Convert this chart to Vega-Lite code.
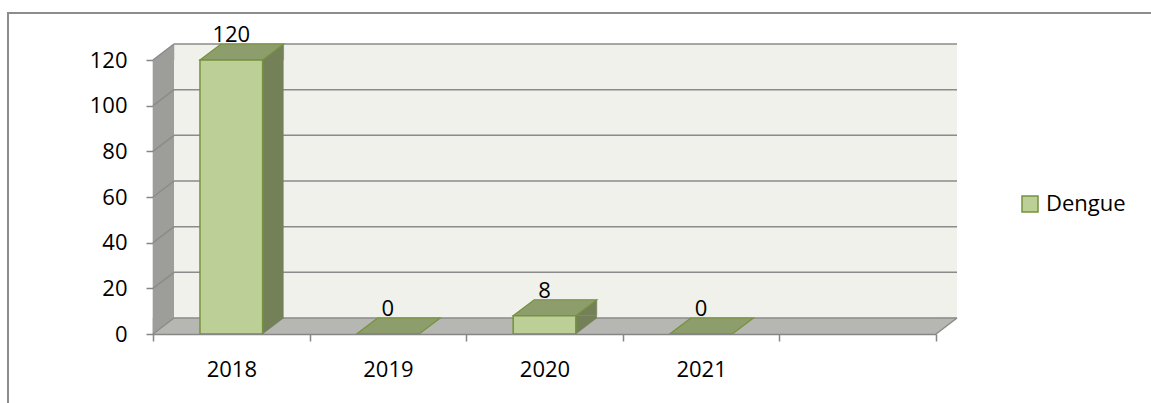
{
  "$schema": "https://vega.github.io/schema/vega-lite/v6.json",
  "width": 1143,
  "height": 390,
  "autosize": {"type": "none"},
  "padding": {"left": 8, "top": 13, "right": 0, "bottom": 0},
  "background": "white",
  "config": {
    "view": {"stroke": "#8c8c8c", "strokeWidth": 2, "strokeDash": [1143, 1533, 390]},
    "font": "Open Sans"
  },
  "datasets": {
    "cases": [
      {"year": "2018", "cases": 120},
      {"year": "2019", "cases": 0},
      {"year": "2020", "cases": 8},
      {"year": "2021", "cases": 0}
    ],
    "grid": [{"v": 0}, {"v": 20}, {"v": 40}, {"v": 60}, {"v": 80}, {"v": 100}, {"v": 120}],
    "one": [{}]
  },
  "data": {"name": "cases"},
  "layer": [
    {
      "data": {"name": "one"},
      "mark": {"type": "rect", "fill": "#eff1ea", "xOffset": 21, "x2Offset": 21, "yOffset": -16, "y2Offset": -16},
      "encoding": {
        "x": {
          "datum": "2018", "bandPosition": 0, "type": "nominal",
          "scale": {"type": "band", "domain": ["2018", "2019", "2020", "2021", " "], "range": [145, 928], "paddingInner": 0, "paddingOuter": 0},
          "axis": {
            "title": null, "orient": "bottom", "offset": -69, "tickBand": "extent", "grid": false, "labelAngle": 0,
            "domainColor": "#868686", "domainWidth": 1.5, "tickColor": "#868686", "tickWidth": 1.5, "tickSize": 7,
            "labelFont": "Open Sans", "labelFontSize": 22, "labelColor": "#000000", "labelPadding": 18
          }
        },
        "x2": {"datum": " ", "bandPosition": 1},
        "y": {
          "datum": 0, "type": "quantitative",
          "scale": {"domain": [0, 120], "range": [321, 47], "nice": false, "zero": true},
          "axis": {
            "title": null, "offset": -145, "values": [0, 20, 40, 60, 80, 100, 120], "grid": false,
            "domainColor": "#868686", "domainWidth": 1.5, "tickColor": "#868686", "tickWidth": 1.5, "tickSize": 7,
            "labelFont": "Open Sans", "labelFontSize": 22, "labelColor": "#000000", "labelPadding": 19
          }
        },
        "y2": {"datum": 120}
      }
    },
    {
      "data": {"name": "one"},
      "mark": {"type": "rect", "fill": "#9d9e9a", "x2Offset": 21, "y2Offset": -16},
      "encoding": {
        "x": {"datum": "2018", "bandPosition": 0, "type": "nominal"},
        "x2": {"datum": "2018", "bandPosition": 0},
        "y": {"datum": 120, "type": "quantitative"},
        "y2": {"datum": 0}
      }
    },
    {
      "data": {"name": "one"},
      "mark": {"type": "point", "shape": "M0,0 L21,-16 L21,0 Z", "size": 4, "filled": true, "fill": "#9d9e9a", "stroke": "#9d9e9a", "strokeWidth": 0.5, "opacity": 1},
      "encoding": {
        "x": {"datum": "2018", "bandPosition": 0, "type": "nominal"},
        "y": {"datum": 120, "type": "quantitative"}
      }
    },
    {
      "data": {"name": "one"},
      "mark": {"type": "point", "shape": "M0,0 L0,-16 L21,-16 Z", "size": 4, "filled": true, "fill": "#9d9e9a", "stroke": "#9d9e9a", "strokeWidth": 0.5, "opacity": 1},
      "encoding": {
        "x": {"datum": "2018", "bandPosition": 0, "type": "nominal"},
        "y": {"datum": 0, "type": "quantitative"}
      }
    },
    {
      "data": {"name": "one"},
      "mark": {"type": "rect", "fill": "#b6b7b2", "xOffset": 21, "y2Offset": -16},
      "encoding": {
        "x": {"datum": "2018", "bandPosition": 0, "type": "nominal"},
        "x2": {"datum": " ", "bandPosition": 1},
        "y": {"datum": 0, "type": "quantitative"},
        "y2": {"datum": 0}
      }
    },
    {
      "data": {"name": "one"},
      "mark": {"type": "point", "shape": "M0,0 L21,0 L21,-16 Z", "size": 4, "filled": true, "fill": "#b6b7b2", "stroke": "#b6b7b2", "strokeWidth": 0.5, "opacity": 1},
      "encoding": {
        "x": {"datum": "2018", "bandPosition": 0, "type": "nominal"},
        "y": {"datum": 0, "type": "quantitative"}
      }
    },
    {
      "data": {"name": "one"},
      "mark": {"type": "point", "shape": "M0,0 L21,-16 L0,-16 Z", "size": 4, "filled": true, "fill": "#b6b7b2", "stroke": "#b6b7b2", "strokeWidth": 0.5, "opacity": 1},
      "encoding": {
        "x": {"datum": " ", "bandPosition": 1, "type": "nominal"},
        "y": {"datum": 0, "type": "quantitative"}
      }
    },
    {
      "data": {"name": "grid"},
      "mark": {"type": "rule", "stroke": "#8b8b8b", "strokeWidth": 1.5, "xOffset": 21, "x2Offset": 21, "yOffset": -16},
      "encoding": {
        "x": {"datum": "2018", "bandPosition": 0, "type": "nominal"},
        "x2": {"datum": " ", "bandPosition": 1},
        "y": {"field": "v", "type": "quantitative"}
      }
    },
    {
      "data": {"name": "grid"},
      "mark": {"type": "point", "shape": "M0,0 L21,-16", "size": 4, "filled": false, "stroke": "#8b8b8b", "strokeWidth": 1.5, "opacity": 1},
      "encoding": {
        "x": {"datum": "2018", "bandPosition": 0, "type": "nominal"},
        "y": {"field": "v", "type": "quantitative"}
      }
    },
    {
      "data": {"name": "one"},
      "mark": {"type": "point", "shape": "M0,0 L21,-16", "size": 4, "filled": false, "stroke": "#8b8b8b", "strokeWidth": 1.5, "opacity": 1},
      "encoding": {
        "x": {"datum": " ", "bandPosition": 1, "type": "nominal"},
        "y": {"datum": 0, "type": "quantitative"}
      }
    },
    {
      "transform": [{"filter": "datum.cases > 0"}],
      "mark": {"type": "bar", "width": 21, "xOffset": 41.8, "y2Offset": -16, "fill": "#748158"},
      "encoding": {
        "x": {"field": "year", "type": "nominal"},
        "y": {"field": "cases", "type": "quantitative"},
        "y2": {"datum": 0}
      }
    },
    {
      "transform": [{"filter": "datum.cases > 0"}],
      "mark": {"type": "point", "shape": "M31.3,0 L52.3,-16 L52.3,0 Z", "size": 4, "filled": true, "fill": "#748158", "stroke": "#748158", "strokeWidth": 0.5, "opacity": 1},
      "encoding": {
        "x": {"field": "year", "type": "nominal"},
        "y": {"field": "cases", "type": "quantitative"}
      }
    },
    {
      "transform": [{"filter": "datum.cases > 0"}],
      "mark": {"type": "point", "shape": "M31.3,-16 L31.3,0 L52.3,-16 Z", "size": 4, "filled": true, "fill": "#748158", "stroke": "#748158", "strokeWidth": 0.5, "opacity": 1},
      "encoding": {
        "x": {"field": "year", "type": "nominal"},
        "y": {"datum": 0, "type": "quantitative"}
      }
    },
    {
      "mark": {"type": "point", "shape": "M-31.3,0 L31.3,0 L52.3,-16 L-10.3,-16 Z", "size": 4, "filled": true, "fill": "#8d9d6b", "stroke": "#76923c", "strokeWidth": 1.2, "opacity": 1},
      "encoding": {
        "x": {"field": "year", "type": "nominal"},
        "y": {"field": "cases", "type": "quantitative"}
      }
    },
    {
      "mark": {"type": "bar", "width": {"band": 0.4}, "stroke": "#76923c", "strokeWidth": 1.5},
      "encoding": {
        "x": {"field": "year", "type": "nominal"},
        "y": {"field": "cases", "type": "quantitative"},
        "color": {
          "datum": "Dengue", "type": "nominal",
          "scale": {"range": ["#bccf97"]},
          "legend": {
            "orient": "none", "legendX": 1011, "legendY": 180, "title": null, "padding": 0,
            "symbolType": "square", "symbolSize": 256, "symbolStrokeColor": "#76923c", "symbolStrokeWidth": 1.5,
            "labelFont": "Open Sans", "labelFontSize": 22, "labelColor": "#000000", "labelOffset": 5
          }
        }
      }
    },
    {
      "mark": {"type": "text", "font": "Open Sans", "fontSize": 22, "color": "#000000", "dy": -18, "baseline": "alphabetic"},
      "encoding": {
        "x": {"field": "year", "type": "nominal"},
        "y": {"field": "cases", "type": "quantitative"},
        "text": {"field": "cases", "type": "quantitative"}
      }
    }
  ]
}
